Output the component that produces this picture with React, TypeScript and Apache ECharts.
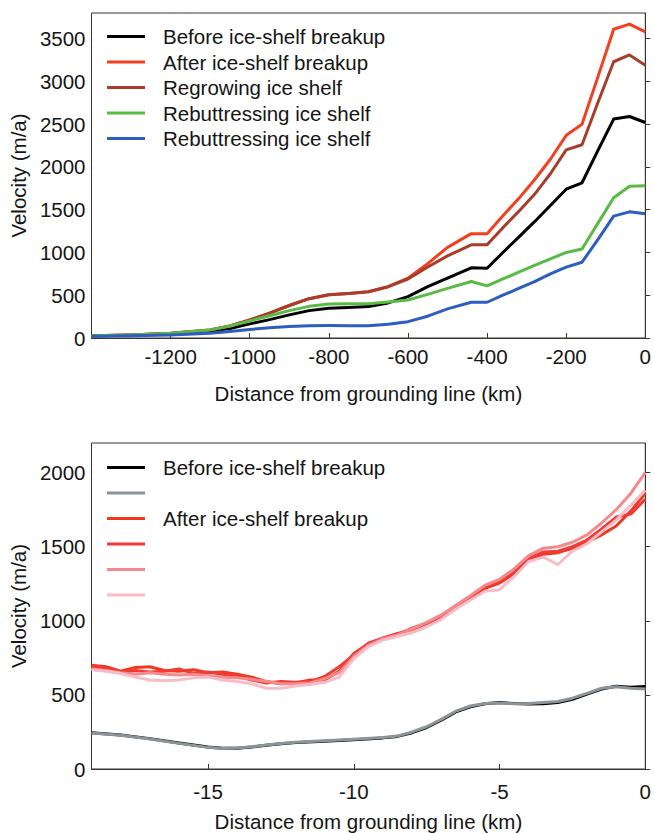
import React, { useEffect, useRef } from 'react';
import * as echarts from 'echarts';

// ---------- Top panel data ----------
const topX = [-1400, -1300, -1200, -1100, -1050, -1000, -950, -900, -850, -800, -750, -700, -650, -600, -550, -500, -440, -400, -360, -320, -280, -240, -200, -160, -120, -80, -40, 0];
const topBefore = [25, 33, 50, 80, 110, 165, 215, 270, 320, 348, 357, 367, 410, 484, 600, 700, 820, 815, 1000, 1180, 1360, 1550, 1740, 1815, 2190, 2560, 2590, 2520];
const topAfter = [25, 35, 55, 95, 140, 210, 290, 380, 460, 505, 520, 540, 600, 700, 870, 1060, 1220, 1220, 1430, 1630, 1850, 2090, 2370, 2500, 3050, 3610, 3670, 3580];
const topRegrow = [25, 35, 55, 95, 140, 210, 290, 380, 460, 505, 520, 540, 600, 690, 830, 960, 1090, 1090, 1290, 1480, 1680, 1920, 2200, 2260, 2750, 3230, 3310, 3190];
const topRebuttA = [25, 35, 55, 95, 140, 200, 260, 320, 370, 398, 400, 400, 420, 445, 510, 580, 660, 610, 690, 770, 850, 925, 1000, 1040, 1340, 1640, 1775, 1780];
const topRebuttB = [20, 25, 35, 55, 75, 100, 120, 135, 143, 145, 142, 143, 160, 191, 255, 340, 418, 418, 500, 580, 660, 750, 828, 886, 1150, 1425, 1475, 1452];

// ---------- Bottom panel data ----------
const botBaseX = [-19, -18, -17, -16, -15, -14.5, -14, -13.5, -13, -12.5, -12, -11, -10, -9, -8.5, -8, -7.5, -7, -6.5, -6, -5.5, -5, -4.5, -4, -3.5, -3, -2.5, -2, -1.5, -1, -0.5, 0];
const botBefore = [245, 230, 205, 175, 148, 140, 140, 148, 160, 170, 178, 188, 198, 210, 220, 245, 280, 330, 385, 420, 440, 448, 442, 438, 440, 448, 470, 505, 540, 558, 552, 556];
const botBeforeGray = [243, 228, 203, 173, 146, 138, 142, 150, 162, 172, 180, 190, 200, 212, 222, 250, 285, 335, 390, 425, 442, 446, 440, 442, 448, 455, 478, 510, 545, 555, 545, 540];

const botRedX = [-19, -18.5, -18, -17.5, -17, -16.5, -16, -15.5, -15, -14.5, -14, -13.5, -13, -12.5, -12, -11.5, -11, -10.5, -10, -9.5, -9, -8.5, -8, -7.5, -7, -6.5, -6, -5.5, -5, -4.5, -4, -3.5, -3, -2.5, -2, -1.5, -1, -0.5, 0];
const botAfter1 = [700, 690, 660, 685, 690, 665, 660, 670, 650, 655, 640, 620, 590, 575, 580, 600, 600, 660, 780, 845, 875, 905, 950, 985, 1020, 1090, 1150, 1220, 1255, 1320, 1410, 1450, 1460, 1490, 1530, 1580, 1640, 1740, 1860];
const botAfter2 = [690, 675, 650, 665, 655, 660, 675, 645, 655, 640, 625, 600, 580, 590, 585, 590, 625, 690, 770, 850, 885, 915, 940, 980, 1030, 1100, 1165, 1230, 1270, 1340, 1420, 1465, 1470, 1500, 1545, 1620, 1700, 1720, 1820];
const botAfter3 = [675, 665, 650, 640, 650, 640, 635, 640, 630, 620, 615, 605, 590, 575, 575, 580, 610, 650, 760, 835, 880, 905, 945, 990, 1040, 1105, 1170, 1240, 1280, 1350, 1440, 1490, 1500, 1530, 1580, 1660, 1750, 1860, 2000];
const botAfter4 = [670, 660, 645, 620, 600, 595, 600, 615, 620, 600, 590, 575, 545, 545, 560, 570, 585, 620, 745, 825, 870, 895, 920, 960, 1010, 1080, 1140, 1200, 1210, 1300, 1400, 1430, 1380, 1470, 1520, 1600, 1680, 1780, 1880];

const topLabels: Record<string, string> = {
  tBefore: 'Before ice-shelf breakup',
  tAfter: 'After ice-shelf breakup',
  tRegrow: 'Regrowing ice shelf',
  tRebA: 'Rebuttressing ice shelf',
  tRebB: 'Rebuttressing ice shelf',
};
const botLabels: Record<string, string> = {
  bBefore: 'Before ice-shelf breakup',
  bGray: '',
  bAfter1: 'After ice-shelf breakup',
  bAfter2: '',
  bAfter3: '',
  bAfter4: '',
};

const xTitle = 'Distance from grounding line (km)';
const yTitle = 'Velocity (m/a)';

const FONT = 'Liberation Sans, Arial, Helvetica, sans-serif';
const AXIS_COLOR = '#3a3535';
const TEXT_COLOR = '#151515';
const FS = 20.5;

const zip = (xs: number[], ys: number[]) => xs.map((x, i) => [x, ys[i]]);

export default function App() {
  const ref = useRef<HTMLDivElement>(null);
  useEffect(() => {
    if (!ref.current) return;
    const chart = echarts.init(ref.current, undefined, { renderer: 'svg' });

    const line = (name: string, xs: number[], ys: number[], color: string, idx: number, width = 3) => ({
      name,
      type: 'line',
      xAxisIndex: idx,
      yAxisIndex: idx,
      data: zip(xs, ys),
      showSymbol: false,
      symbol: 'none',
      smooth: false,
      lineStyle: { color, width, join: 'round' },
      itemStyle: { color },
      emphasis: { disabled: true },
    });

    const fmt = (v: number) => String(v);

    const xAxisBase = {
      type: 'value',
      nameLocation: 'middle',
      name: xTitle,
      nameTextStyle: { fontFamily: FONT, fontSize: FS, color: TEXT_COLOR },
      axisLine: { show: true, onZero: false, lineStyle: { color: AXIS_COLOR, width: 1 } },
      axisTick: { show: true, inside: true, length: 5, lineStyle: { color: AXIS_COLOR } },
      splitLine: { show: false },
    };
    const yAxisBase = {
      type: 'value',
      nameLocation: 'middle',
      name: yTitle,
      nameRotate: 90,
      nameGap: 54,
      nameTextStyle: { fontFamily: FONT, fontSize: FS, color: TEXT_COLOR },
      axisLine: { show: true, lineStyle: { color: AXIS_COLOR, width: 1 } },
      axisTick: { show: true, inside: true, length: 5, lineStyle: { color: AXIS_COLOR } },
      splitLine: { show: false },
      axisLabel: { fontFamily: FONT, fontSize: FS, color: TEXT_COLOR, margin: 6, showMaxLabel: false, formatter: fmt },
    };

    const legendBase = {
      orient: 'vertical',
      left: 107,
      padding: 0,
      icon: 'rect',
      itemWidth: 38,
      itemHeight: 3,
      itemGap: 4.5,
      selectedMode: false,
      textStyle: { fontFamily: FONT, fontSize: FS, color: TEXT_COLOR, lineHeight: 20, padding: [0, 0, 0, 13] },
    };

    chart.setOption({
      animation: false,
      backgroundColor: '#ffffff',
      grid: [
        { left: 88, top: 13, right: 4, height: 325, show: true, borderColor: AXIS_COLOR, borderWidth: 1, containLabel: false },
        { left: 88, top: 443, right: 4, height: 326, show: true, borderColor: AXIS_COLOR, borderWidth: 1, containLabel: false },
      ],
      legend: [
        {
          ...legendBase,
          top: 26,
          data: ['tBefore', 'tAfter', 'tRegrow', 'tRebA', 'tRebB'],
          formatter: (n: string) => topLabels[n],
        },
        {
          ...legendBase,
          top: 457,
          data: ['bBefore', 'bGray', 'bAfter1', 'bAfter2', 'bAfter3', 'bAfter4'],
          formatter: (n: string) => botLabels[n] || ' ',
        },
      ],
      xAxis: [
        {
          ...xAxisBase,
          gridIndex: 0,
          min: -1400,
          max: 0,
          interval: 200,
          nameGap: 45,
          axisLabel: { fontFamily: FONT, fontSize: FS, color: TEXT_COLOR, margin: 8, showMinLabel: false, formatter: fmt },
        },
        {
          ...xAxisBase,
          gridIndex: 1,
          min: -19,
          max: 0,
          nameGap: 42,
          axisLabel: { fontFamily: FONT, fontSize: FS, color: TEXT_COLOR, margin: 12, customValues: [-15, -10, -5, 0], formatter: fmt },
          axisTick: { show: true, inside: true, length: 5, lineStyle: { color: AXIS_COLOR }, customValues: [-15, -10, -5, 0] },
        },
      ],
      yAxis: [
        { ...yAxisBase, gridIndex: 0, min: 0, max: 3800, interval: 500 },
        { ...yAxisBase, gridIndex: 1, min: 0, max: 2200, interval: 500 },
      ],
      series: [
        line('tBefore', topX, topBefore, '#000000', 0),
        line('tAfter', topX, topAfter, '#f2401e', 0),
        line('tRegrow', topX, topRegrow, '#a83d2c', 0),
        line('tRebA', topX, topRebuttA, '#57bb44', 0),
        line('tRebB', topX, topRebuttB, '#2c5ec0', 0),
        line('bBefore', botBaseX, botBefore, '#000000', 1),
        line('bGray', botBaseX, botBeforeGray, '#8c9498', 1),
        line('bAfter1', botRedX, botAfter1, '#ee3a1e', 1),
        line('bAfter2', botRedX, botAfter2, '#f23b35', 1),
        line('bAfter3', botRedX, botAfter3, '#f5898c', 1),
        line('bAfter4', botRedX, botAfter4, '#f8bcc8', 1),
      ],
    });
    return () => chart.dispose();
  }, []);

  return (
    <div
      ref={ref}
      style={{ position: 'fixed', left: 0, top: 0, width: 654, height: 833, background: '#fff' }}
    />
  );
}
